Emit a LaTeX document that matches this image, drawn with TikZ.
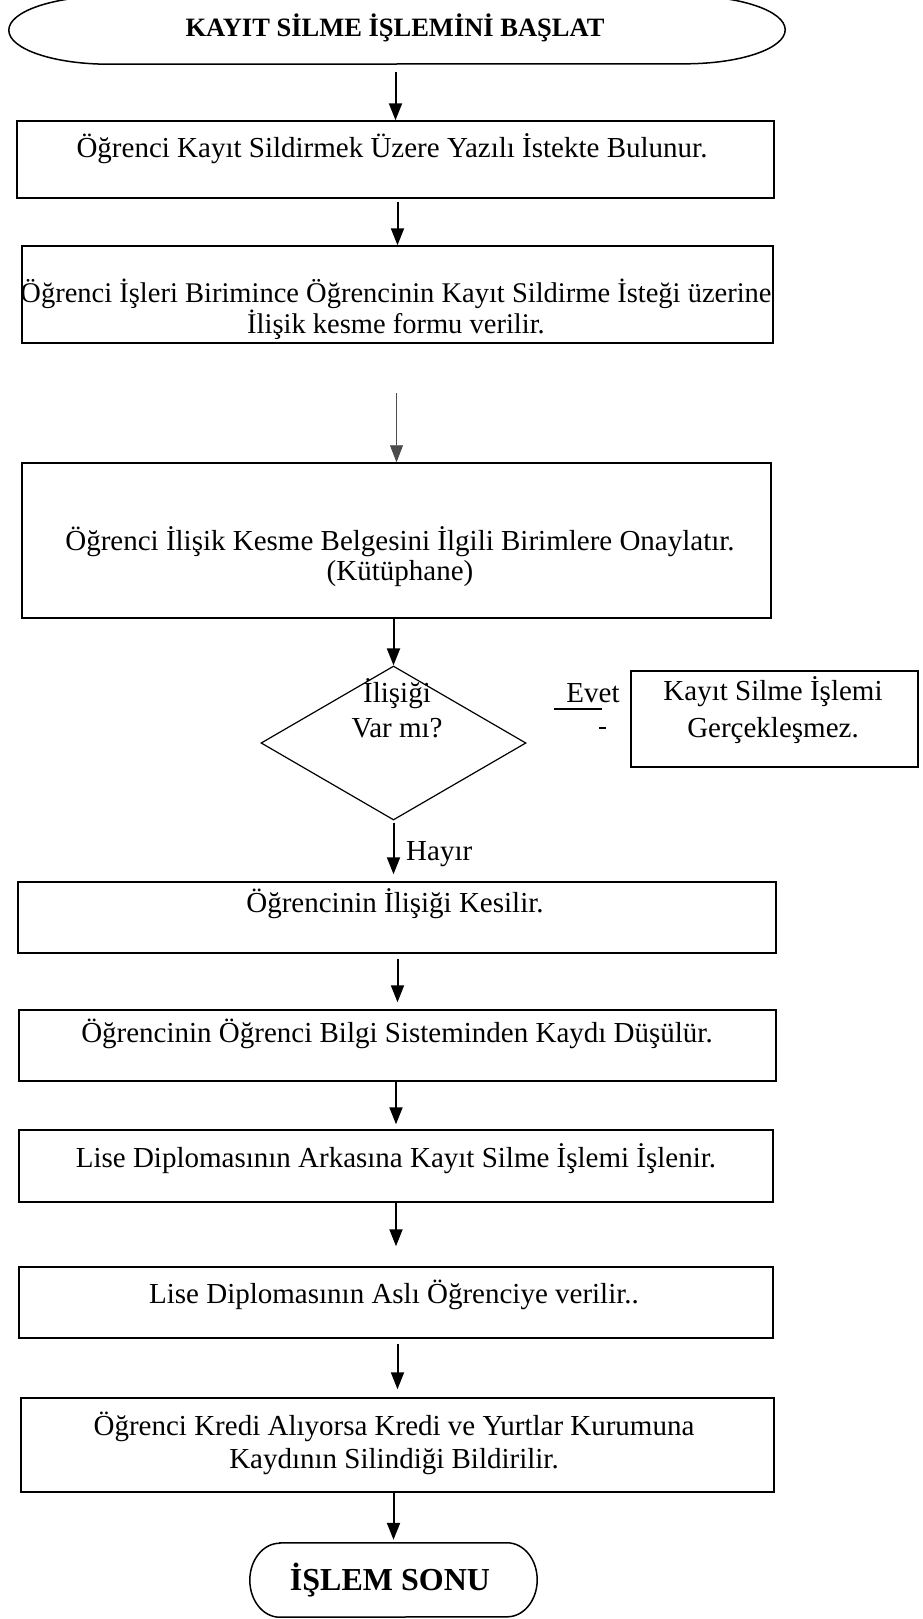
\documentclass[tikz,border=0pt]{standalone}
\usepackage{fontspec}
\setmainfont{Liberation Serif}
\usetikzlibrary{arrows.meta,calc,shapes.geometric}

\begin{document}
\begin{tikzpicture}[x=1pt,y=1pt,
    box/.style={draw, line width=1.5pt, inner sep=0pt},
    txt/.style={font=\fontsize{29}{34}\selectfont, inner sep=0pt, align=center},
    arr/.style={-{Triangle[length=17pt,width=13pt]}, line width=2pt},
    termline/.style={line width=1.5pt}]
    \useasboundingbox (0,0) rectangle (922,-1619);
    \clip (0,0) rectangle (922,-1619);

    \node[inner sep=0pt, minimum width=776, minimum height=68] (start) at (397,-30) {};
    \draw[termline] ($(start.north west)+(100,0)$) -- ($(start.north east)+(-100,0)$)
        arc[start angle=90, end angle=-90, x radius=100, y radius=34]
        -- ($(start.south west)+(100,0)$)
        arc[start angle=270, end angle=90, x radius=100, y radius=34] -- cycle;
    \node[txt, anchor=base, font=\bfseries\fontsize{26.5}{30}\selectfont] (startt) at (395,-37) {KAYIT SİLME İŞLEMİNİ BAŞLAT};

    \node[box, minimum width=757, minimum height=77] (s1) at (395.5,-159.5) {};
    \node[txt, anchor=base] (s1t) at (392,-157) {Öğrenci Kayıt Sildirmek Üzere Yazılı İstekte Bulunur.};

    \node[box, minimum width=751, minimum height=97] (s2) at (397.5,-294.5) {};
    \node[txt, anchor=base, font=\fontsize{28.5}{31}\selectfont] (s2t) at (396,-333) {Öğrenci İşleri Birimince Öğrencinin Kayıt Sildirme İsteği üzerine\\İlişik kesme formu verilir.};

    \node[box, minimum width=749, minimum height=155] (s3) at (396.5,-540.5) {};
    \node[txt, anchor=base, font=\fontsize{29}{30}\selectfont] (s3t) at (400,-580) {Öğrenci İlişik Kesme Belgesini İlgili Birimlere Onaylatır.\\(Kütüphane)};

    \node[draw, diamond, line width=1.2pt, minimum width=265, minimum height=154, inner sep=0pt] (dec) at (393.5,-743) {};
    \node[txt, anchor=base, font=\fontsize{29}{35}\selectfont] (dect) at (397,-737) {İlişiği\\Var mı?};

    \node[box, line width=2.5pt, minimum width=287, minimum height=96] (no) at (774.5,-719) {};
    \node[txt, anchor=base, font=\fontsize{29}{37}\selectfont] (not) at (773,-737) {Kayıt Silme İşlemi\\Gerçekleşmez.};

    \node[txt, anchor=base] (evet) at (593,-702) {Evet};
    \coordinate (u1) at (554,-709);
    \coordinate (u2) at (602,-709);
    \draw[line width=1.5pt] (u1) -- (u2);
    \draw[line width=1.5pt] (599,-728) -- (606,-728);

    \node[txt, anchor=base west] (hayir) at (406,-860) {Hayır};

    \node[box, minimum width=758, minimum height=71] (s4) at (397,-917.5) {};
    \node[txt, anchor=base] (s4t) at (395,-912) {Öğrencinin İlişiği Kesilir.};

    \node[box, minimum width=757, minimum height=71] (s5) at (397.5,-1045.5) {};
    \node[txt, anchor=base] (s5t) at (397,-1042) {Öğrencinin Öğrenci Bilgi Sisteminden Kaydı Düşülür.};

    \node[box, minimum width=754, minimum height=72] (s6) at (396,-1166) {};
    \node[txt, anchor=base] (s6t) at (396,-1167) {Lise Diplomasının Arkasına Kayıt Silme İşlemi İşlenir.};

    \node[box, minimum width=754, minimum height=71] (s7) at (396,-1302.5) {};
    \node[txt, anchor=base] (s7t) at (394,-1303) {Lise Diplomasının Aslı Öğrenciye verilir..};

    \node[box, minimum width=753, minimum height=94] (s8) at (397.5,-1445) {};
    \node[txt, anchor=base, font=\fontsize{29}{33}\selectfont] (s8t) at (394,-1468) {Öğrenci Kredi Alıyorsa Kredi ve Yurtlar Kurumuna\\Kaydının Silindiği Bildirilir.};

    \node[inner sep=0pt, minimum width=287, minimum height=74] (stop) at (393.5,-1580) {};
    \draw[termline] ($(stop.north west)+(30,0)$) -- ($(stop.north east)+(-30,0)$)
        arc[start angle=90, end angle=-90, x radius=30, y radius=37]
        -- ($(stop.south west)+(30,0)$)
        arc[start angle=270, end angle=90, x radius=30, y radius=37] -- cycle;
    \node[txt, anchor=base, font=\bfseries\fontsize{32}{36}\selectfont] (stopt) at (390,-1590) {İŞLEM SONU};

    \draw[arr] ($(s1.north |- start.south)+(0,-8)$) -- (s1.north);
    \draw[arr] ($(s2.north |- s1.south)+(0,-3)$) -- (s2.north);
    \draw[arr, line width=0.8pt, draw=black!70] ($(s3.north |- s2.south)+(0,-49)$) -- (s3.north);
    \draw[arr] (dec.north |- s3.south) -- (dec.north);
    \draw[arr] ($(dec.south)+(0,-2)$) -- ($(s4.north -| dec.south)+(0,7)$);
    \draw[arr] ($(s5.north |- s4.south)+(0,-5)$) -- ($(s5.north)+(0,7)$);
    \draw[arr] (s6.north |- s5.south) -- ($(s6.north)+(0,5)$);
    \draw[arr] (s7.north |- s6.south) -- ($(s7.north)+(0,20)$);
    \draw[arr] ($(s8.north |- s7.south)+(0,-5)$) -- ($(s8.north)+(0,8)$);
    \draw[arr] (stop.north |- s8.south) -- ($(stop.north)+(0,3)$);
\end{tikzpicture}
\end{document}
